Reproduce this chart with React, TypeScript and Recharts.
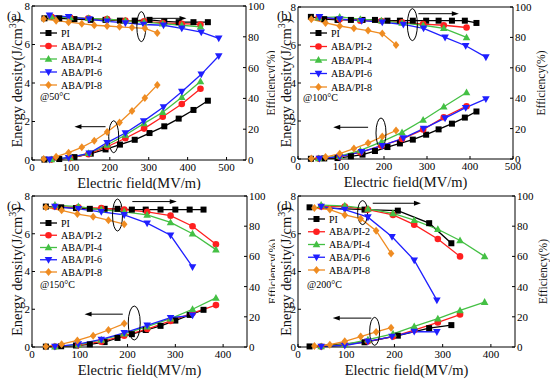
import React from "react";
import { ComposedChart, Line, XAxis, YAxis, ReferenceDot, ReferenceLine, Legend } from "recharts";

const FONT = '"Liberation Serif", "Times New Roman", serif';

const seriesNames = ["PI", "ABA/PI-2", "ABA/PI-4", "ABA/PI-6", "ABA/PI-8"];
const seriesColors = ["#000000", "#ff1f1f", "#44c044", "#1f1fff", "#ef8c22"];
const seriesShapes = ["square", "circle", "triangle", "triangleDown", "diamond"];

const energyTicks = [0, 2, 4, 6, 8];
const effTicks = [0, 20, 40, 60, 80, 100];
const fieldTicks500 = [0, 100, 200, 300, 400, 500];
const fieldTicks400 = [0, 100, 200, 300, 400];

// (a) 50 °C
const a_field_PI = [32, 70, 109, 151, 189, 226, 264, 302, 340, 377, 415, 452];
const a_energy_PI = [0.02, 0.05, 0.15, 0.33, 0.55, 0.8, 1.05, 1.4, 1.75, 2.15, 2.6, 3.08];
const a_eff_PI = [92, 92, 91.5, 91, 91, 90.5, 90.5, 91, 90, 89.5, 89.5, 89.5];
const a_field_2 = [50, 98, 145, 193, 240, 288, 336, 385, 433];
const a_energy_2 = [0.02, 0.1, 0.3, 0.69, 1.13, 1.63, 2.25, 2.91, 3.7];
const a_eff_2 = [93, 92.5, 92, 91.5, 90.5, 90, 89, 88.5, 88];
const a_field_4 = [50, 98, 145, 193, 240, 288, 336, 385, 433];
const a_energy_4 = [0.03, 0.12, 0.35, 0.78, 1.3, 1.9, 2.48, 3.26, 4.08];
const a_eff_4 = [93, 92.5, 92, 91.5, 90.5, 89.5, 88.5, 87.5, 86.5];
const a_field_6 = [45, 94, 147, 193, 240, 287, 338, 385, 435, 480];
const a_energy_6 = [0.03, 0.12, 0.35, 0.9, 1.4, 2.02, 2.75, 3.55, 4.45, 5.4];
const a_eff_6 = [94, 93, 91.5, 90, 89, 88, 87.5, 85.5, 83, 79];
const a_field_8 = [30, 62, 94, 128, 160, 193, 225, 257, 290, 322];
const a_energy_8 = [0.05, 0.17, 0.38, 0.66, 1.0, 1.45, 1.95, 2.55, 3.22, 3.9];
const a_eff_8 = [91.5, 90.5, 89.5, 88.5, 87.5, 87, 86.5, 86, 85.5, 82.5];

// (b) 100 °C
const b_field_PI = [30, 61, 92, 123, 150, 179, 208, 237, 267, 298, 327, 358, 388, 415];
const b_energy_PI = [0.01, 0.03, 0.05, 0.14, 0.23, 0.42, 0.63, 0.82, 1.02, 1.28, 1.56, 1.86, 2.18, 2.5];
const b_eff_PI = [93.5, 92, 91.5, 91.5, 91.5, 91.5, 91, 91, 91, 91, 91, 91, 91, 89.5];
const b_field_2 = [48, 97, 145, 194, 242, 291, 339, 392];
const b_energy_2 = [0.02, 0.12, 0.35, 0.7, 1.05, 1.55, 2.2, 2.78];
const b_eff_2 = [93, 92, 91, 90.8, 90, 88.8, 88, 86.5];
const b_field_4 = [48, 97, 145, 194, 242, 291, 339, 392];
const b_energy_4 = [0.03, 0.15, 0.45, 0.9, 1.4, 2.05, 2.75, 3.5];
const b_eff_4 = [93, 93.5, 92, 91, 89.5, 88, 86, 80];
const b_field_6 = [50, 97, 148, 196, 245, 292, 342, 390, 437];
const b_energy_6 = [0.02, 0.12, 0.38, 0.7, 1.1, 1.6, 2.15, 2.7, 3.16];
const b_eff_6 = [93.5, 92, 91, 90, 88.5, 86, 80, 74.5, 67];
const b_field_8 = [31, 64, 97, 130, 163, 196, 228];
const b_energy_8 = [0.02, 0.1, 0.28, 0.55, 0.84, 1.18, 1.5];
const b_eff_8 = [92, 89.5, 87.5, 86, 84.5, 82.5, 75];

// (c) 150 °C
const c_field_PI = [29, 61, 92, 121, 152, 179, 209, 238, 269, 300, 330, 359];
const c_energy_PI = [0.02, 0.04, 0.08, 0.14, 0.26, 0.48, 0.68, 0.9, 1.12, 1.4, 1.7, 1.97];
const c_eff_PI = [93, 92.5, 92, 91.5, 91.5, 91.5, 91, 91, 91, 91, 91, 91];
const c_field_2 = [48, 97, 145, 193, 241, 290, 336, 385];
const c_energy_2 = [0.02, 0.1, 0.28, 0.6, 0.95, 1.38, 1.8, 2.22];
const c_eff_2 = [93, 92.5, 92, 91, 89.5, 87, 80, 68];
const c_field_4 = [48, 97, 145, 193, 241, 290, 336, 385];
const c_energy_4 = [0.02, 0.12, 0.38, 0.7, 1.08, 1.5, 2.0, 2.6];
const c_eff_4 = [94, 93, 91, 89.5, 87.5, 82.5, 75, 64.5];
const c_field_6 = [48, 97, 145, 193, 241, 290, 336];
const c_energy_6 = [0.02, 0.15, 0.4, 0.75, 1.15, 1.55, 1.68];
const c_eff_6 = [93, 91.5, 89.5, 87.5, 82, 74, 53];
const c_field_8 = [29, 62, 95, 128, 160, 193];
const c_energy_8 = [0.03, 0.15, 0.35, 0.6, 0.9, 1.24];
const c_eff_8 = [92.5, 90.5, 88, 86.3, 84, 81.3];

// (d) 200 °C
const d_field_PI = [24, 138, 207, 272, 318];
const d_energy_PI = [0.03, 0.25, 0.6, 1.0, 1.16];
const d_eff_PI = [92.5, 91, 90.3, 82, 68.7];
const d_field_2 = [48, 97, 145, 197, 241, 290, 336];
const d_energy_2 = [0.02, 0.12, 0.3, 0.55, 0.9, 1.3, 1.72];
const d_eff_2 = [93, 93, 91, 87.5, 81, 71.5, 60];
const d_field_4 = [48, 97, 145, 197, 241, 290, 336, 387];
const d_energy_4 = [0.03, 0.12, 0.39, 0.7, 1.09, 1.5, 1.94, 2.38];
const d_eff_4 = [94, 93.5, 91.5, 88.5, 84, 78, 70.5, 60];
const d_field_6 = [48, 97, 145, 195, 241, 288];
const d_energy_6 = [0.03, 0.08, 0.3, 0.55, 0.82, 0.8];
const d_eff_6 = [93, 91, 86, 73, 57.5, 31];
const d_field_8 = [34, 66, 97, 130, 162, 193];
const d_energy_8 = [0.05, 0.12, 0.3, 0.55, 0.8, 1.02];
const d_eff_8 = [92, 91, 87.5, 85, 77, 62];

// annotation marks: ellipse [x, y, rx, ry], arrow [x1, x2, y]
const a_notes = { effEllipse: [281, 86.6, 4.5, 15], effArrow: [304, 397, 92], enEllipse: [210, 1.21, 5, 16], enArrow: [189, 109, 1.73] };
const b_notes = { effEllipse: [266, 88.4, 5, 16], effArrow: [280, 374, 95.6], enEllipse: [193, 1.37, 5, 15], enArrow: [163, 82, 1.67] };
const c_notes = { effEllipse: [179, 87.4, 5, 16], effArrow: [210, 303, 96.3], enEllipse: [214, 1.27, 6, 17], enArrow: [190, 110, 1.74] };
const d_notes = { effEllipse: [134, 89, 5, 12], effArrow: [155, 255, 95.2], enEllipse: [159, 0.83, 5, 14], enArrow: [152, 72, 1.53] };

const panels = [
  {
    key: "a", tag: "(a)", temp: "@50°C", left: 0, top: 0, w: 275, h: 190, mTop: 6, leftW: 32, rightW: 29, xH: 30,
    xMax: 550, xTicks: fieldTicks500,
    fields: [a_field_PI, a_field_2, a_field_4, a_field_6, a_field_8],
    energy: [a_energy_PI, a_energy_2, a_energy_4, a_energy_6, a_energy_8],
    eff: [a_eff_PI, a_eff_2, a_eff_4, a_eff_6, a_eff_8],
    legend: { x: 40, y: 33, row: 13 }, tagXY: [7, 16], tempXY: [40, 97], leftDX: 17, rightDX: 25, notes: a_notes,
  },
  {
    key: "b", tag: "(b)", temp: "@100°C", left: 275, top: 0, w: 275, h: 190, mTop: 7, leftW: 23, rightW: 37, xH: 31,
    xMax: 500, xTicks: fieldTicks500,
    fields: [b_field_PI, b_field_2, b_field_4, b_field_6, b_field_8],
    energy: [b_energy_PI, b_energy_2, b_energy_4, b_energy_6, b_energy_8],
    eff: [b_eff_PI, b_eff_2, b_eff_4, b_eff_6, b_eff_8],
    legend: { x: 35, y: 33, row: 13.5 }, tagXY: [2, 16], tempXY: [28, 98], leftDX: 11, rightDX: 28, notes: b_notes,
  },
  {
    key: "c", tag: "(c)", temp: "@150°C", left: 0, top: 190, w: 275, h: 191, mTop: 6, leftW: 32, rightW: 28, xH: 34,
    xMax: 450, xTicks: fieldTicks400,
    fields: [c_field_PI, c_field_2, c_field_4, c_field_6, c_field_8],
    energy: [c_energy_PI, c_energy_2, c_energy_4, c_energy_6, c_energy_8],
    eff: [c_eff_PI, c_eff_2, c_eff_4, c_eff_6, c_eff_8],
    legend: { x: 40, y: 33, row: 12.25 }, tagXY: [7, 16], tempXY: [40, 95], leftDX: 17, rightDX: 26, notes: c_notes,
  },
  {
    key: "d", tag: "(d)", temp: "@200°C", left: 275, top: 190, w: 275, h: 191, mTop: 6, leftW: 23, rightW: 35, xH: 34,
    xMax: 450, xTicks: fieldTicks400,
    fields: [d_field_PI, d_field_2, d_field_4, d_field_6, d_field_8],
    energy: [d_energy_PI, d_energy_2, d_energy_4, d_energy_6, d_energy_8],
    eff: [d_eff_PI, d_eff_2, d_eff_4, d_eff_6, d_eff_8],
    legend: { x: 33, y: 29, row: 12.75 }, tagXY: [2, 16], tempXY: [32, 95], leftDX: 11, rightDX: 28, notes: d_notes,
  },
];

const toPoints = (xs: number[], ys: number[]) => xs.map((x, i) => ({ x, y: ys[i] }));

function Marker({ cx, cy, shape, color }: { cx: number; cy: number; shape: string; color: string }) {
  if (cx == null || cy == null) return null;
  if (shape === "square") return <rect x={cx - 3} y={cy - 3} width={6} height={6} fill={color} />;
  if (shape === "circle") return <circle cx={cx} cy={cy} r={3.3} fill={color} />;
  if (shape === "triangle")
    return <polygon points={`${cx},${cy - 4} ${cx + 3.8},${cy + 2.8} ${cx - 3.8},${cy + 2.8}`} fill={color} />;
  if (shape === "triangleDown")
    return <polygon points={`${cx},${cy + 4} ${cx + 3.8},${cy - 2.8} ${cx - 3.8},${cy - 2.8}`} fill={color} />;
  return <polygon points={`${cx},${cy - 4} ${cx + 3.3},${cy} ${cx},${cy + 4} ${cx - 3.3},${cy}`} fill={color} />;
}

const dotFor = (i: number) => (props: any) =>
  <Marker key={`dot-${i}-${props.index}`} cx={props.cx} cy={props.cy} shape={seriesShapes[i]} color={seriesColors[i]} />;

function Arrow(props: any) {
  const { x1, y1, x2, y2 } = props;
  const dir = Math.sign(x2 - x1);
  return (
    <g>
      <line x1={x1} y1={y1} x2={x2 - dir * 5} y2={y2} stroke="#000" strokeWidth={1} />
      <polygon points={`${x2},${y2} ${x2 - dir * 7},${y2 - 2.4} ${x2 - dir * 7},${y2 + 2.4}`} fill="#000" />
    </g>
  );
}

const ellipseShape = (rx: number, ry: number) => (props: any) =>
  <ellipse cx={props.cx} cy={props.cy} rx={rx} ry={ry} fill="none" stroke="#000" strokeWidth={1} />;

const legendContent = (row: number) => () => (
  <svg width={80} height={row * 4 + 12} style={{ display: "block" }}>
    {seriesNames.map((name, i) => (
      <g key={name} transform={`translate(0, ${6 + i * row})`}>
        <line x1={0} x2={17} y1={0} y2={0} stroke={seriesColors[i]} strokeWidth={1.3} />
        <Marker cx={8.5} cy={0} shape={seriesShapes[i]} color={seriesColors[i]} />
        <text x={21} y={0} dy="0.35em" fontSize={10} fontFamily={FONT} fill="#000">{name}</text>
      </g>
    ))}
  </svg>
);

const xTitle = (props: any) => {
  const vb = props.viewBox;
  return (
    <text x={vb.x + vb.width / 2} y={vb.y + 23} textAnchor="middle" dominantBaseline="central" fontSize={14.5} fontWeight={400} fontFamily={FONT} fill="#111">
      Electric field(MV/m)
    </text>
  );
};

const leftTitle = (dx: number) => (props: any) => {
  const vb = props.viewBox;
  const cx = vb.x + dx;
  const cy = vb.y + vb.height / 2;
  return (
    <text transform={`translate(${cx},${cy}) rotate(-90)`} textAnchor="middle" dominantBaseline="central" fontSize={14.5} fontWeight={400} fontFamily={FONT} fill="#111">
      Energy density(J/cm<tspan fontSize={10} dy={-5}>3</tspan><tspan dy={5}>)</tspan>
    </text>
  );
};

const rightTitle = (dx: number) => (props: any) => {
  const vb = props.viewBox;
  const cx = vb.x + dx;
  const cy = vb.y + vb.height / 2;
  return (
    <text transform={`translate(${cx},${cy}) rotate(-90)`} textAnchor="middle" dominantBaseline="central" fontSize={11.5} fontWeight={400} fontFamily={FONT} fill="#111">
      Efficiency(%)
    </text>
  );
};

const tickStyle = { fontSize: 11, fill: "#000", fontFamily: FONT };

function Panel({ p }: { p: any }) {
  const n = p.notes;
  return (
    <div style={{ position: "absolute", left: p.left, top: p.top, width: p.w, height: p.h }}>
      <ComposedChart width={p.w} height={p.h} margin={{ top: p.mTop - 1, right: 0, bottom: 0, left: 0 }}>
        <XAxis
          dataKey="x" type="number" domain={[0, p.xMax]} ticks={p.xTicks} height={p.xH}
          stroke="#000" tick={tickStyle} tickSize={-3} tickMargin={6} label={{ content: xTitle }}
        />
        <XAxis xAxisId="top" orientation="top" type="number" domain={[0, p.xMax]} tick={false} tickLine={false} height={1} stroke="#000" />
        <YAxis
          yAxisId="left" type="number" domain={[0, 8]} ticks={energyTicks} width={p.leftW}
          stroke="#000" tick={tickStyle} tickSize={-3} tickMargin={5} label={{ content: leftTitle(p.leftDX) }}
        />
        <YAxis
          yAxisId="right" orientation="right" type="number" domain={[0, 100]} ticks={effTicks} width={p.rightW}
          stroke="#000" tick={tickStyle} tickSize={-3} tickMargin={5} label={{ content: rightTitle(p.rightDX) }}
        />
        {seriesNames.map((name, i) => (
          <Line
            key={`en-${name}`} name={name} yAxisId="left" data={toPoints(p.fields[i], p.energy[i])} dataKey="y"
            type="linear" stroke={seriesColors[i]} strokeWidth={1.3} dot={dotFor(i)} activeDot={false}
            isAnimationActive={false} legendType="none"
          />
        ))}
        {seriesNames.map((name, i) => (
          <Line
            key={`ef-${name}`} name={name} yAxisId="right" data={toPoints(p.fields[i], p.eff[i])} dataKey="y"
            type="linear" stroke={seriesColors[i]} strokeWidth={1.3} dot={dotFor(i)} activeDot={false}
            isAnimationActive={false} legendType="none"
          />
        ))}
        <ReferenceDot yAxisId="right" x={n.effEllipse[0]} y={n.effEllipse[1]} r={0} shape={ellipseShape(n.effEllipse[2], n.effEllipse[3])} />
        <ReferenceDot yAxisId="left" x={n.enEllipse[0]} y={n.enEllipse[1]} r={0} shape={ellipseShape(n.enEllipse[2], n.enEllipse[3])} />
        <ReferenceLine
          yAxisId="right" segment={[{ x: n.effArrow[0], y: n.effArrow[2] }, { x: n.effArrow[1], y: n.effArrow[2] }]}
          shape={(sp: any) => <Arrow {...sp} />}
        />
        <ReferenceLine
          yAxisId="left" segment={[{ x: n.enArrow[0], y: n.enArrow[2] }, { x: n.enArrow[1], y: n.enArrow[2] }]}
          shape={(sp: any) => <Arrow {...sp} />}
        />
        <Legend
          layout="vertical" align="center" verticalAlign="middle" content={legendContent(p.legend.row)}
          wrapperStyle={{ left: p.legend.x, top: p.legend.y - 6, width: 80 }}
        />
      </ComposedChart>
      <div style={{ position: "absolute", left: p.tagXY[0], top: p.tagXY[1] - 8, fontFamily: FONT, fontSize: 12.5, lineHeight: "16px" }}>
        {p.tag}
      </div>
      <div style={{ position: "absolute", left: p.tempXY[0], top: p.tempXY[1] - 7, fontFamily: FONT, fontSize: 10, lineHeight: "14px" }}>
        {p.temp}
      </div>
    </div>
  );
}

export default function App() {
  return (
    <div style={{ position: "absolute", left: 0, top: 0, width: 550, height: 381, background: "#fff", overflow: "hidden" }}>
      {panels.map((p) => (
        <Panel key={p.key} p={p} />
      ))}
    </div>
  );
}
